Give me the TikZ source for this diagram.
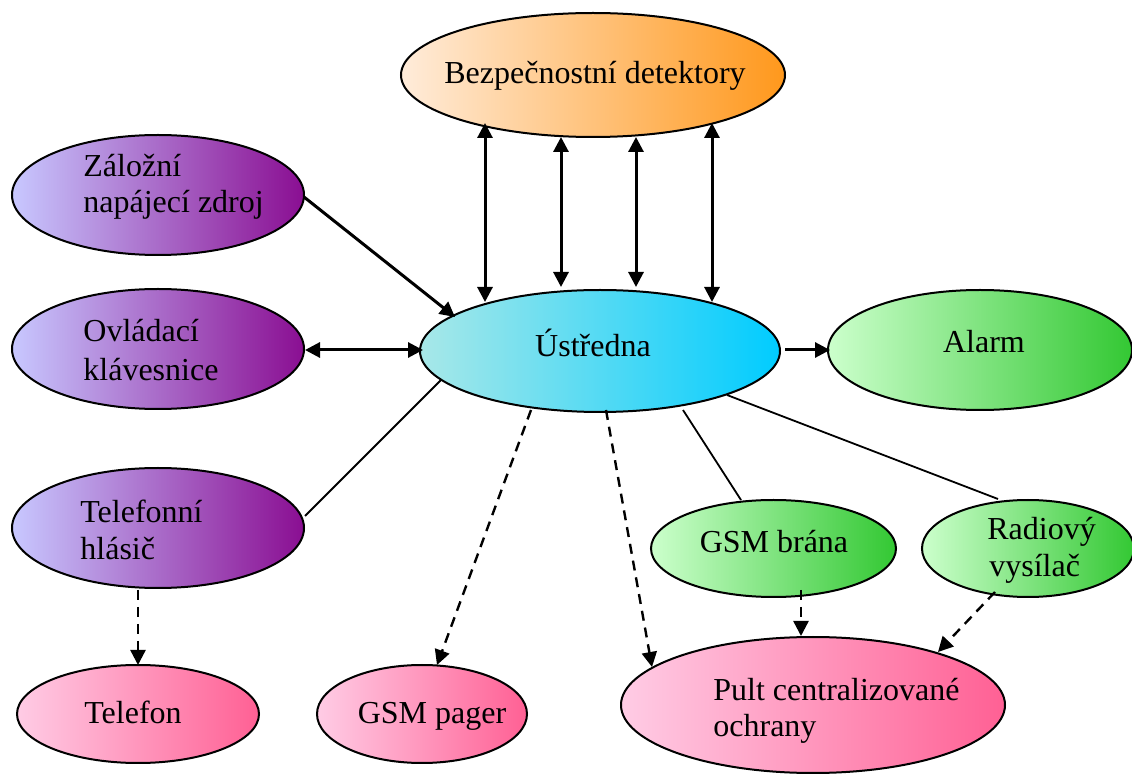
\documentclass[tikz,border=0pt]{standalone}
\usepackage{fontspec}
\setmainfont{Liberation Serif}
\usetikzlibrary{shapes.geometric,arrows.meta}

\definecolor{peachL}{RGB}{255,236,218}
\definecolor{peachR}{RGB}{255,152,28}
\definecolor{violL}{RGB}{200,200,255}
\definecolor{violR}{RGB}{138,14,146}
\definecolor{cyanL}{RGB}{168,232,232}
\definecolor{cyanR}{RGB}{0,204,255}
\definecolor{greenL}{RGB}{204,255,204}
\definecolor{greenR}{RGB}{51,200,51}
\definecolor{pinkL}{RGB}{255,204,229}
\definecolor{pinkR}{RGB}{255,96,148}

\begin{document}
\begin{tikzpicture}[x=0.5pt,y=-0.5pt,
  oval/.style={ellipse, draw=black, line width=1pt, inner sep=0pt},
  peach/.style={oval, left color=peachL, right color=peachR},
  viol/.style={oval, left color=violL, right color=violR},
  cyanblob/.style={oval, left color=cyanL, right color=cyanR},
  greenblob/.style={oval, left color=greenL, right color=greenR},
  pinkblob/.style={oval, left color=pinkL, right color=pinkR},
  lbl/.style={inner sep=0pt, font=\fontsize{16}{19}\selectfont},
  bothway/.style={line width=1.5pt, {Triangle[length=7.5pt,width=7.5pt]}-{Triangle[length=7.5pt,width=7.5pt]}},
  oneway/.style={line width=1.5pt, -{Triangle[length=7.5pt,width=7.5pt]}},
  plainline/.style={line width=0.9pt},
  dashway/.style={line width=1.2pt, dash pattern=on 5pt off 3.5pt, -{Triangle[length=7.5pt,width=7.5pt]}}
]
\useasboundingbox (0,0) rectangle (1132,775);

% ellipses
\node[peach, minimum width=192pt, minimum height=62pt] (bez) at (593,75) {};
\node[viol, minimum width=146pt, minimum height=60pt] (zal) at (158,195) {};
\node[viol, minimum width=146pt, minimum height=60pt] (ovl) at (158,349) {};
\node[viol, minimum width=146pt, minimum height=60pt] (hla) at (158,528) {};
\node[cyanblob, minimum width=180pt, minimum height=61pt] (ust) at (600,351) {};
\node[greenblob, minimum width=152pt, minimum height=60pt] (alarm) at (980,350) {};
\node[greenblob, minimum width=122.5pt, minimum height=48.5pt] (gsm) at (773.5,548.5) {};
\node[greenblob, minimum width=106pt, minimum height=48.5pt] (rad) at (1028,548.5) {};
\node[pinkblob, minimum width=121pt, minimum height=49pt] (tel) at (138,714) {};
\node[pinkblob, minimum width=105pt, minimum height=49pt] (pager) at (422,714) {};
\node[pinkblob, minimum width=192pt, minimum height=68pt] (pult) at (813,705) {};

% labels
\node[lbl, anchor=base] (bezT) at (595,84) {Bezpečnostní detektory};
\node[lbl, anchor=base west] (zalT1) at (83,177) {Záložní};
\node[lbl, anchor=base west] (zalT2) at (83,213) {napájecí zdroj};
\node[lbl, anchor=base west] (ovlT1) at (83,342) {Ovládací};
\node[lbl, anchor=base west] (ovlT2) at (83,381) {klávesnice};
\node[lbl, anchor=base west] (hlaT1) at (80,523) {Telefonní};
\node[lbl, anchor=base west] (hlaT2) at (80,560) {hlásič};
\node[lbl, anchor=base] (ustT) at (593,357) {Ústředna};
\node[lbl, anchor=base] (alarmT) at (984,353) {Alarm};
\node[lbl, anchor=base] (gsmT) at (774,553) {GSM brána};
\node[lbl, anchor=base west] (radT1) at (987,540) {Radiový};
\node[lbl, anchor=base west] (radT2) at (989,577) {vysílač};
\node[lbl, anchor=base] (telT) at (133,724) {Telefon};
\node[lbl, anchor=base] (pagerT) at (432,724) {GSM pager};
\node[lbl, anchor=base west] (pultT1) at (713,701) {Pult centralizované};
\node[lbl, anchor=base west] (pultT2) at (713,737) {ochrany};

% connector end points
\coordinate (d1a) at (485,123); \coordinate (d1b) at (485,302);
\coordinate (d2a) at (561,137); \coordinate (d2b) at (561,287);
\coordinate (d3a) at (636,137); \coordinate (d3b) at (636,287);
\coordinate (d4a) at (712,123); \coordinate (d4b) at (712,302);
\coordinate (zalOut) at (304,197); \coordinate (ustInZ) at (455,317);
\coordinate (ovlOut) at (305,350); \coordinate (ustInO) at (423,350);
\coordinate (ustOutA) at (785,350); \coordinate (alarmIn) at (830,350);
\coordinate (ustL) at (441,380); \coordinate (hlaIn) at (305,516);
\coordinate (ustP) at (531,410); \coordinate (pagerIn) at (437,665);
\coordinate (ustC) at (606,410); \coordinate (pultInU) at (652,667);
\coordinate (ustG) at (683,410); \coordinate (gsmIn) at (741,500);
\coordinate (ustR) at (727,395); \coordinate (radIn) at (998,499);
\coordinate (hlaOut) at (138,590); \coordinate (telIn) at (138,665);
\coordinate (gsmOut) at (801,590); \coordinate (pultInG) at (801,636);
\coordinate (radOut) at (995,592); \coordinate (pultInR) at (938,652);

% detectors <-> control panel
\draw[bothway] (d1a) -- (d1b);
\draw[bothway] (d2a) -- (d2b);
\draw[bothway] (d3a) -- (d3b);
\draw[bothway] (d4a) -- (d4b);

% solid links
\draw[oneway] (zalOut) -- (ustInZ);
\draw[bothway] (ovlOut) -- (ustInO);
\draw[oneway] (ustOutA) -- (alarmIn);
\draw[plainline] (ustL) -- (hlaIn);
\draw[plainline] (ustG) -- (gsmIn);
\draw[plainline] (ustR) -- (radIn);

% dashed links
\draw[dashway] (ustP) -- (pagerIn);
\draw[dashway] (ustC) -- (pultInU);
\draw[dashway] (hlaOut) -- (telIn);
\draw[dashway] (gsmOut) -- (pultInG);
\draw[dashway] (radOut) -- (pultInR);
\end{tikzpicture}
\end{document}
